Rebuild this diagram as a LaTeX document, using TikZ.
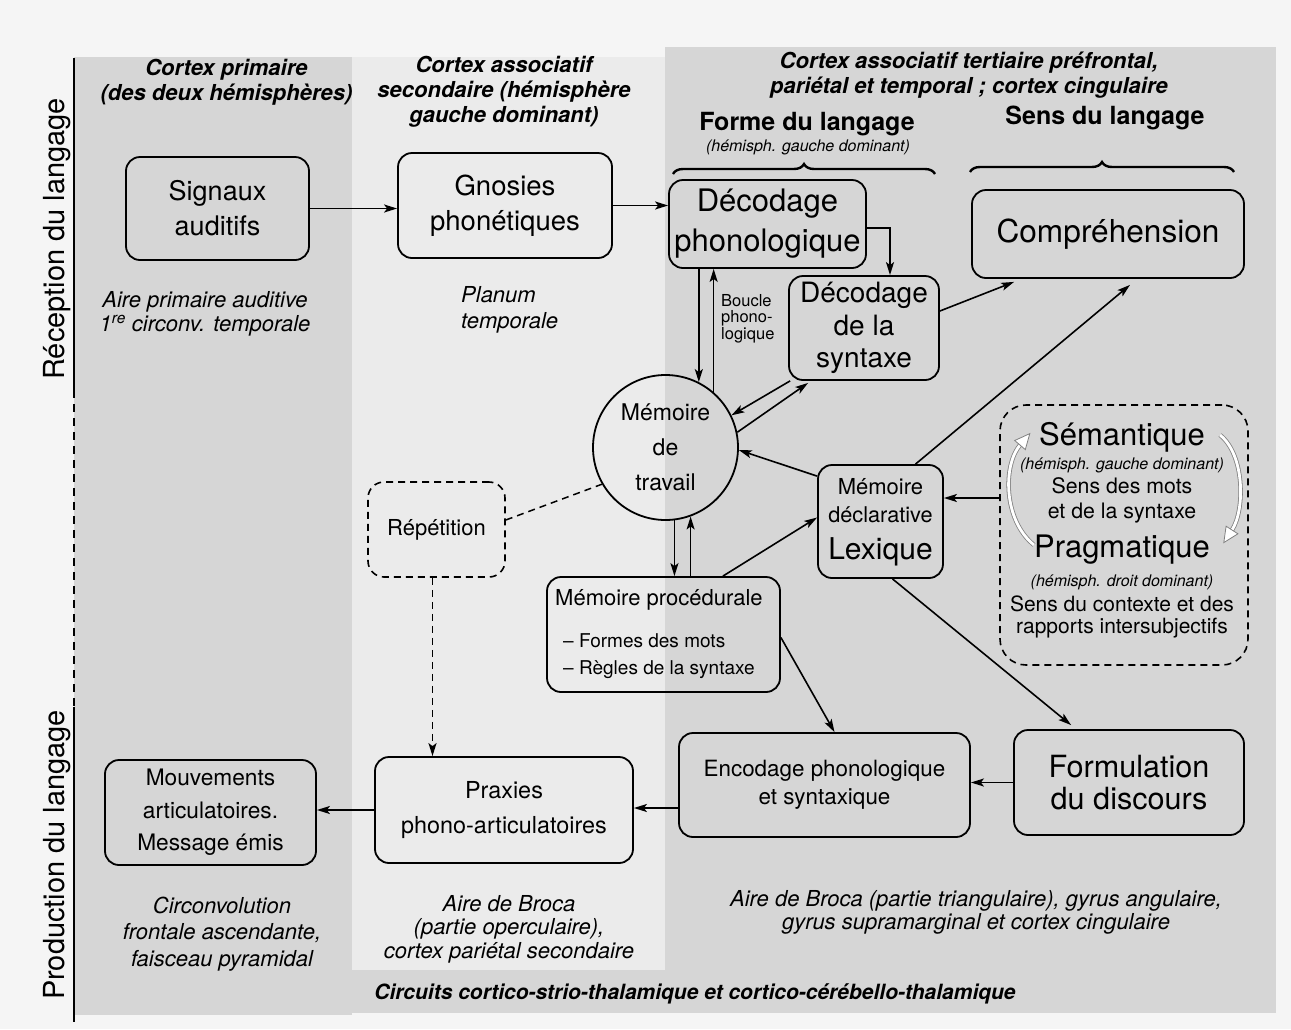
\documentclass[tikz,border=0pt]{standalone}
\usepackage{fontspec}
\setmainfont{TeX Gyre Heros}
\usetikzlibrary{arrows.meta,calc,decorations.pathreplacing}
\newcommand\myfs[2]{\fontsize{#1}{#2}\selectfont}
\begin{document}
\begin{tikzpicture}[x=1pt,y=-1pt,
  box/.style={draw, line width=1.8pt, rounded corners=14pt, inner sep=0pt, align=center},
  dbox/.style={draw, line width=1.6pt, rounded corners=16pt, dash pattern=on 7pt off 5pt, inner sep=0pt, align=center},
  arr/.style={-{Stealth[length=13pt,width=8pt,inset=3pt]}, line width=1.6pt},
  darr/.style={arr, dash pattern=on 7pt off 5pt},
  dline/.style={line width=1.5pt, dash pattern=on 7pt off 5pt},
  txt/.style={inner sep=0pt, align=center},
  head/.style={txt, font=\myfs{22}{25}\bfseries\itshape},
  area/.style={txt, font=\myfs{22}{24}\itshape},
  hollow/.style={line width=0.8pt, draw=black!50, double=white, double distance=2.8pt},
  hhead/.style={line width=0.8pt, draw=black!50, fill=white},
]
\useasboundingbox (0,0) rectangle (1291,1029);
% backgrounds
\fill[black!4] (0,0) rectangle (1291,1029);
\fill[black!8] (352,57) rectangle (665,970);
\fill[black!16] (74,57) rectangle (352,1015);
\fill[black!16] (665,47) rectangle (1276,1013);
\fill[black!16] (352,970) rectangle (665,1013);
% axis
\draw[line width=2.2pt] (74,58) -- (74,390);
\draw[line width=2.2pt, dash pattern=on 8pt off 6pt] (74,390) -- (74,707);
\draw[line width=2.2pt] (74,707) -- (74,1022);
\node[txt, rotate=90, font=\myfs{29}{32}] (rec) at (57,239) {Réception du langage};
\node[txt, rotate=90, font=\myfs{29}{32}] (prod) at (57,855) {Production du langage};
% headers
\node[head] (h1) at (226.5,82.5) {Cortex primaire\\(des deux hémisphères)};
\node[head] (h2) at (504,92) {Cortex associatif\\secondaire (hémisphère\\gauche dominant)};
\node[head] (h3) at (969,75.5) {Cortex associatif tertiaire préfrontal,\\pariétal et temporal ; cortex cingulaire};
\node[txt, font=\myfs{25}{28}\bfseries] (forme) at (807,124) {Forme du langage};
\node[txt, font=\myfs{16}{18}\itshape] (formeh) at (808,147) {(hémisph. gauche dominant)};
\node[txt, font=\myfs{25}{28}\bfseries] (sens) at (1105,118) {Sens du langage};
\draw[decorate, decoration={brace, amplitude=10pt}, line width=2.4pt] (673,174) -- (935,174);
\draw[decorate, decoration={brace, amplitude=10pt}, line width=2.4pt] (970,172) -- (1234,172);
% boxes
\node[box, minimum width=183pt, minimum height=103pt, font=\myfs{27}{35}] (sig) at (217.5,208.5) {Signaux\\auditifs};
\node[box, minimum width=214pt, minimum height=105pt, font=\myfs{27.5}{35}] (gno) at (505,205.5) {Gnosies\\phonétiques};
\node[box, minimum width=197pt, minimum height=88pt, font=\myfs{31}{40}] (dph) at (767.5,224) {Décodage\\phonologique};
\node[box, minimum width=150pt, minimum height=104pt, font=\myfs{28}{32.5}] (dsy) at (864,328) {Décodage\\de la\\syntaxe};
\node[box, minimum width=272pt, minimum height=88pt, font=\myfs{31.6}{36}] (comp) at (1108,234) {Compréhension};
\node[draw, circle, line width=1.8pt, minimum size=145pt, inner sep=0pt, align=center, font=\myfs{23}{35}] (mdt) at (665.5,447.5) {Mémoire\\de\\travail};
\node[box, minimum width=125pt, minimum height=113pt] (lex) at (880.5,521.5) {};
\node[txt, font=\myfs{22}{24}] (lex1) at (880.5,487) {Mémoire};
\node[txt, font=\myfs{21.7}{24}] (lex2) at (880.5,515) {déclarative};
\node[txt, font=\myfs{30}{32}] (lex3) at (880.5,552) {Lexique};
\node[box, minimum width=233pt, minimum height=115pt] (proc) at (663.5,634.5) {};
\node[txt, anchor=west, font=\myfs{22}{24}] (proc1) at (555,600) {Mémoire procédurale};
\node[txt, anchor=west, align=left, font=\myfs{19}{27}] (proc2) at (563,656.5) {– Formes des mots\\– Règles de la syntaxe};
\node[dbox, minimum width=137pt, minimum height=95pt, font=\myfs{22}{24}] (rep) at (436.5,529.5) {Répétition};
\node[dbox, minimum width=248pt, minimum height=260pt, rounded corners=26pt] (sem) at (1124,535) {};
\node[txt, font=\myfs{31}{33}] (sem1) at (1122,437) {Sémantique};
\node[txt, font=\myfs{16}{18}\itshape] (sem2) at (1122,465) {(hémisph. gauche dominant)};
\node[txt, font=\myfs{21.3}{25}] (sem3) at (1122,500.5) {Sens des mots\\et de la syntaxe};
\node[txt, font=\myfs{31}{33}] (sem4) at (1122,550) {Pragmatique};
\node[txt, font=\myfs{16}{18}\itshape] (sem5) at (1122,582) {(hémisph. droit dominant)};
\node[txt, font=\myfs{21}{22}] (sem6) at (1122,617) {Sens du contexte et des\\rapports intersubjectifs};
\node[box, minimum width=211pt, minimum height=105pt, font=\myfs{22.7}{32.5}] (mouv) at (210.5,812.5) {Mouvements\\articulatoires.\\Message émis};
\node[box, minimum width=258pt, minimum height=106pt, font=\myfs{23.4}{35}] (prax) at (504,810) {Praxies\\phono-articulatoires};
\node[box, minimum width=291pt, minimum height=104pt, font=\myfs{22.4}{28}] (enc) at (824.5,785) {Encodage phonologique\\et syntaxique};
\node[box, minimum width=230pt, minimum height=105pt, font=\myfs{30.6}{32}] (form) at (1129,782.5) {Formulation\\du discours};
% area labels
\node[area] (a1) at (205,313.5) {Aire primaire auditive\\1\textsuperscript{re} circonv. temporale};
\node[area, anchor=west, align=left, font=\myfs{22}{26}\itshape] (a2) at (461,310) {Planum\\temporale};
\node[area, font=\myfs{22}{26.5}\itshape] (a3) at (222,934) {Circonvolution\\frontale ascendante,\\faisceau pyramidal};
\node[area, font=\myfs{22}{23.5}\itshape] (a4) at (509,929) {Aire de Broca\\(partie operculaire),\\cortex pariétal secondaire};
\node[area, font=\myfs{22}{23}\itshape] (a5) at (976,912) {Aire de Broca (partie triangulaire), gyrus angulaire,\\gyrus supramarginal et cortex cingulaire};
\node[txt, font=\myfs{21}{24}\bfseries\itshape] (circ) at (695,994) {Circuits cortico-strio-thalamique et cortico-cérébello-thalamique};
\node[txt, anchor=west, align=left, font=\myfs{16.5}{16.5}] (boucle) at (721,318.5) {Boucle\\phono-\\logique};
% connectors
\draw[arr] (sig.east) -- (sig.east -| gno.west);
\draw[arr] (gno.east) -- (gno.east -| dph.west);
\draw[arr] ($(dph.east)+(0,4)$) -| ($(dsy.north)+(26,0)$);
\draw[arr] (dph.south -| mdt.63) -- (mdt.63);
\draw[arr] (mdt.49) -- (dph.south -| mdt.49);
\draw[arr] ($(dsy.south west)+(2,0)$) -- (mdt.26);
\draw[arr] (mdt.12) -- ($(dsy.south west)+(20,2)$);
\draw[arr] ($(lex.north west)+(0,12)$) -- (mdt.-2);
\draw[arr] ($(proc.north east)+(-58,0)$) -- ($(lex.west)+(0,-4)$);
\draw[arr] (mdt.277) -- (proc.north -| mdt.277);
\draw[arr] (proc.north -| mdt.290) -- (mdt.290);
\draw[arr] ($(dsy.east)+(0,-17)$) -- ($(comp.south west)+(43,3)$);
\draw[arr] ($(lex.north)+(35,0)$) -- ($(comp.south)+(22,6)$);
\coordinate (s1) at ($(sem.west)+(0,-37)$);
\draw[arr] (s1) -- (s1 -| lex.east);
\draw[arr] ($(lex.south)+(12,0)$) -- ($(form.north west)+(58,-4)$);
\draw[arr] ($(proc.east)+(0,3)$) -- ($(enc.north)+(10,0)$);
\draw[arr] (form.west) -- (form.west -| enc.east);
\coordinate (e1) at ($(enc.west)+(0,23)$);
\draw[arr] (e1) -- (e1 -| prax.east);
\draw[arr] (prax.west) -- (prax.west -| mouv.east);
\draw[dline] ($(rep.east)+(0,-9.5)$) -- (mdt.210);
\coordinate (r1) at ($(rep.south)+(-4,0)$);
\draw[darr] (r1) -- (r1 |- prax.north);
% hollow curved arrows
\draw[hollow] (1034,545) .. controls (1003,520) and (1003,465) .. (1020,445);
\draw[hhead] (1025.3,449.6) -- (1029.8,433.6) -- (1014.7,440.5) -- cycle;
\draw[hollow] (1220,435) .. controls (1245,455) and (1245,510) .. (1232,530);
\draw[hhead] (1237.9,533.8) -- (1223.8,542.6) -- (1226.1,526.2) -- cycle;
\end{tikzpicture}
\end{document}
